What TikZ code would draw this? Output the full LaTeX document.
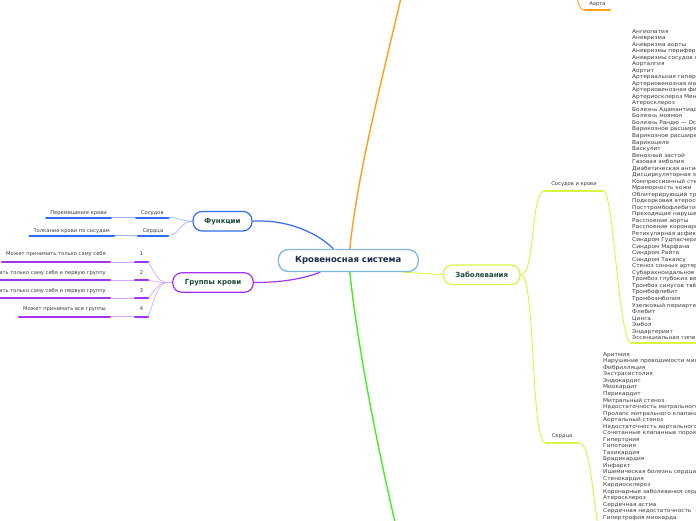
\documentclass[tikz,border=0pt]{standalone}
\usepackage{fontspec}
\setmainfont{DejaVu Sans}
\newfontfamily\listfont[FakeStretch=1.1]{DejaVu Sans}
\pgfdeclarelayer{bg}
\pgfsetlayers{bg,main}
\definecolor{cblue}{HTML}{2F6BF5}
\definecolor{cbluel}{HTML}{9DB8FA}
\definecolor{cpurple}{HTML}{A335F2}
\definecolor{cpurplel}{HTML}{D6A8FA}
\definecolor{cyel}{HTML}{D9F542}
\definecolor{cyell}{HTML}{E4F77E}
\definecolor{corange}{HTML}{FF9F1C}
\definecolor{cgreen}{HTML}{45F01F}
\definecolor{cmainb}{HTML}{7FB8E6}
\definecolor{ctitle}{HTML}{1B2A4A}
\definecolor{cbranch}{HTML}{1C4A3B}
\definecolor{cleaf}{HTML}{3A3A3A}
\begin{document}
\begin{tikzpicture}[x=1pt,y=-1pt,
  mainnode/.style={draw=cmainb, line width=1.3pt, rounded corners=10pt, fill=white,
    minimum width=140pt, minimum height=22pt, inner sep=0pt,
    font=\fontsize{8.5}{10}\selectfont\bfseries, text=ctitle},
  branch/.style={draw=#1, line width=1.2pt, rounded corners=9pt, fill=white,
    minimum height=19.5pt, inner sep=0pt,
    font=\fontsize{7}{8}\selectfont\bfseries, text=cbranch},
  leaf/.style={inner xsep=4pt, inner ysep=0pt, text height=3.8pt, text depth=#1,
    font=\fontsize{5.2}{6}\selectfont, text=cleaf},
  listtext/.style={inner xsep=1pt, inner ysep=2.5pt, align=left,
    font=\listfont\fontsize{5.3}{6.52}\selectfont, text=cleaf},
  ul/.style={line width=2pt, draw=#1, line cap=round},
  thinc/.style={line width=0.7pt, draw=#1},
  mainc/.style={line width=1.2pt, draw=#1}
]
\useasboundingbox (0,0) rectangle (696,520);

% main nodes
\node[mainnode] (c) at (348.3,260.5) {Кровеносная система};
\node[branch=cblue, minimum width=59pt] (f) at (222.5,221.2) {Функции};
\node[branch=cpurple, minimum width=80.5pt] (g) at (213,282.5) {Группы крови};
\node[branch=cyel, minimum width=76.7pt] (z) at (481.7,274.7) {Заболевания};

% Functions
\node[leaf=3.3pt, minimum width=32pt, anchor=base] (fs) at (152.3,214) {Сосудов};
\node[leaf=3.3pt, minimum width=30pt, anchor=base] (fh) at (153,232) {Сердца};
\node[leaf=3.3pt, anchor=base east] (fs1) at (111,214) {Перемещение крови};
\node[leaf=3.3pt, anchor=base east] (fh1) at (114,232) {Толкание крови по сосудам};

% Blood groups
\node[leaf=6pt, minimum width=13pt, anchor=base] (n1) at (141.5,255.8) {1};
\node[leaf=6pt, minimum width=13pt, anchor=base] (n2) at (141.5,274) {2};
\node[leaf=6pt, minimum width=13pt, anchor=base] (n3) at (141.5,292.2) {3};
\node[leaf=6pt, minimum width=13pt, anchor=base] (n4) at (141.5,310.3) {4};
\node[leaf=6pt, anchor=base east] (t1) at (110,255.8) {Может принимать только саму себя};
\node[leaf=6pt, anchor=base east] (t2) at (110,274) {Может принимать только саму себя и первую группу};
\node[leaf=6pt, anchor=base east] (t3) at (110,292.2) {Может принимать только саму себя и первую группу};
\node[leaf=6pt, anchor=base east] (t4) at (110,310.3) {Может принимать все группы};

% Diseases
\node[leaf=5.5pt, minimum width=58pt, anchor=base] (sv) at (574,185.2) {Сосудов и крови};
\node[leaf=5.5pt, minimum width=32pt, anchor=base] (sh) at (562,437.2) {Сердца};
\node[leaf=5pt, minimum width=25pt, anchor=base] (ao) at (597.5,5) {Аорта};

\node[listtext, anchor=north west] (lv) at (631,26.6) {Ангиопатия\\Аневризма\\Аневризма аорты\\Аневризмы периферических артерий\\Аневризмы сосудов головного мозга\\Аорталгия\\Аортит\\Артериальная гипертензия\\Артериовенозная мальформация\\Артериовенозная фистула\\Артериосклероз Менкеберга\\Атеросклероз\\Болезнь Адамантиадиса — Бехчета\\Болезнь моямоя\\Болезнь Рандю — Ослера\\Варикозное расширение вен нижних конечностей\\Варикозное расширение вен малого таза\\Варикоцеле\\Васкулит\\Венозный застой\\Газовая эмболия\\Диабетическая ангиопатия\\Дисциркуляторная энцефалопатия\\Компрессионный стеноз чревного ствола\\Мраморность кожи\\Облитерирующий тромбангиит\\Подкорковая атеросклеротическая энцефалопатия\\Посттромбофлебитический синдром\\Преходящие нарушения мозгового кровообращения\\Расслоение аорты\\Расслоение коронарной артерии\\Ретикулярная асфиксия\\Синдром Гудпасчера\\Синдром Марфана\\Синдром Райта\\Синдром Такаясу\\Стеноз сонных артерий\\Субарахноидальное кровоизлияние\\Тромбоз глубоких вен\\Тромбоз синусов твёрдой мозговой оболочки\\Тромбофлебит\\Тромбоэмболия\\Узелковый периартериит\\Флебит\\Цинга\\Эмбол\\Эндартериит\\Эссенциальная гипертензия};

\node[listtext, anchor=north west] (lh) at (602,349.8) {Аритмия\\Нарушение проводимости миокарда\\Фибрилляция\\Экстрасистолия\\Эндокардит\\Миокардит\\Перикардит\\Митральный стеноз\\Недостаточность митрального клапана\\Пролапс митрального клапана\\Аортальный стеноз\\Недостаточность аортального клапана\\Сочетанные клапанные пороки\\Гипертония\\Гипотония\\Тахикардия\\Брадикардия\\Инфаркт\\Ишемическая болезнь сердца\\Стенокардия\\Кардиосклероз\\Коронарные заболевания сердца\\Атеросклероз\\Сердечная астма\\Сердечная недостаточность\\Гипертрофия миокарда};

\coordinate (oend) at (404,-15);
\coordinate (gend) at (398,535);
\coordinate (aop) at (576,-15);
\coordinate (hend) at (604,560);

\begin{pgfonlayer}{bg}
% main connectors
\draw[mainc=cblue] ([xshift=-15pt]c.north) .. controls (320,235) and (290,219) .. (f.east);
\draw[mainc=cpurple] ([xshift=-28pt]c.south) .. controls (305,278) and (285,282.5) .. (g.east);
\draw[line width=1.4pt, draw=corange] ([xshift=1.5pt]c.north) .. controls (358,170) and (382,80) .. (oend);
\draw[line width=1.4pt, draw=cgreen] ([xshift=1.5pt]c.south) .. controls (358,350) and (378,450) .. (gend);
\draw[thinc=cyel, line width=0.9pt] ([xshift=54pt]c.south) .. controls (425,273.5) .. (z.west);

% functions
\draw[thinc=cbluel] (f.west) .. controls (180,221.2) and (180,217.3) .. (fs.south east);
\draw[thinc=cbluel] (f.west) .. controls (180,221.2) and (180,235.3) .. (fh.south east);
\draw[thinc=cbluel] (fs.south west) -- (fs1.south east);
\draw[thinc=cbluel] (fh.south west) -- (fh1.south east);
\foreach \n in {fs,fh,fs1,fh1} \draw[ul=cblue] (\n.south west) -- (\n.south east);

% groups
\foreach \k in {1,2,3,4} {
  \draw[thinc=cpurplel] (g.west) .. controls (160,282.5) and (160,282.5) .. (n\k.south east);
  \draw[thinc=cpurplel] (n\k.south west) -- (t\k.south east);
  \draw[ul=cpurple] (n\k.south west) -- (n\k.south east);
  \draw[ul=cpurple] (t\k.south west) -- (t\k.south east);
}

% diseases
\draw[thinc=cyel, line width=0.9pt] (z.east) .. controls (536,274.7) and (530,190.5) .. (sv.south west);
\draw[thinc=cyel, line width=0.9pt] (z.east) .. controls (536,274.7) and (530,442.7) .. (sh.south west);
\draw[thinc=cyel, line width=0.9pt] (sv.south east) .. controls (614,191) and (618,338) .. (lv.south west);
\draw[thinc=cyel, line width=0.9pt] (sh.south east) .. controls (592,443) and (590,490) .. (hend);
\draw[ul=cyel] (sv.south west) -- (sv.south east);
\draw[ul=cyel] (sh.south west) -- (sh.south east);
\draw[ul=cyel] (lv.south west) -- (lv.south east);

% aorta
\draw[thinc=corange, line width=0.9pt] (aop) .. controls (577,5) and (580,10) .. (ao.south west);
\draw[ul=corange] (ao.south west) -- (ao.south east);
\end{pgfonlayer}
\end{tikzpicture}
\end{document}
